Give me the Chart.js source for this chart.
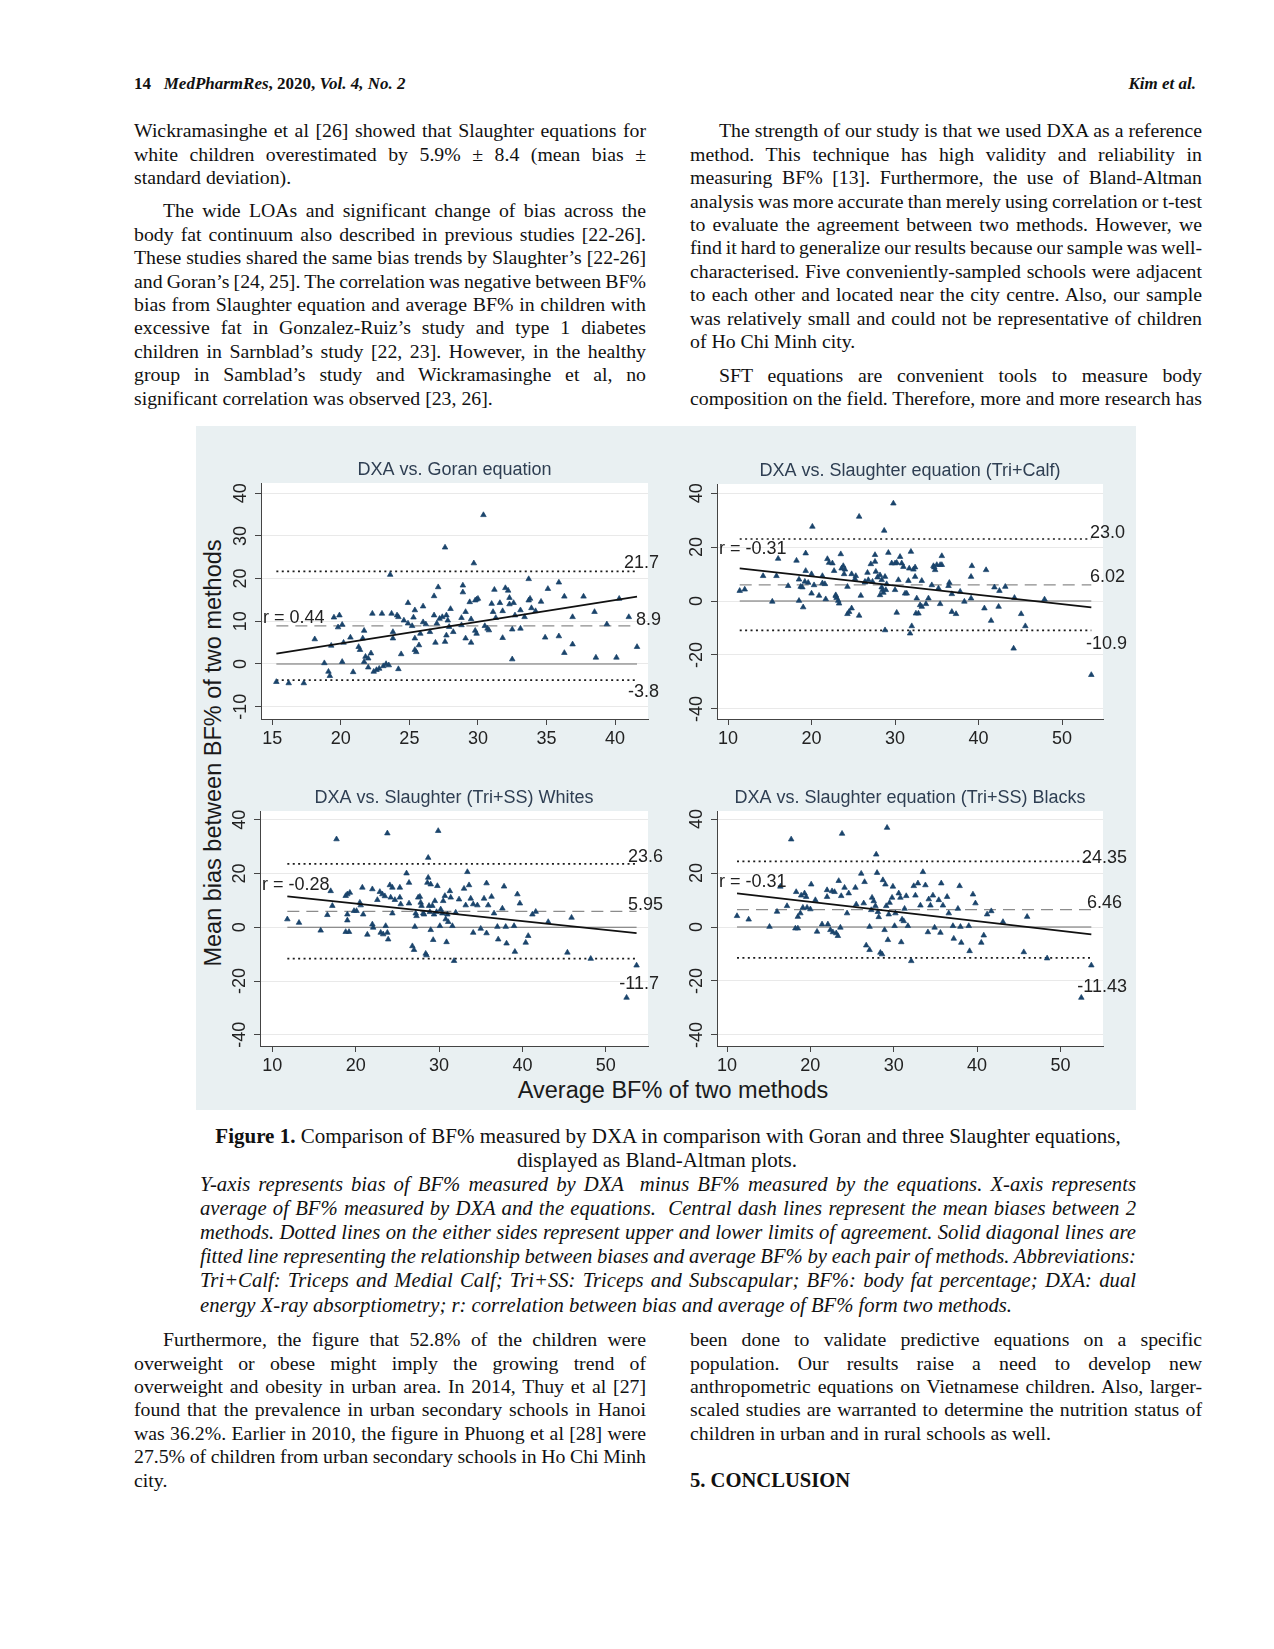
<!DOCTYPE html>
<html>
<head>
<meta charset="utf-8">
<script src="https://cdn.jsdelivr.net/npm/chart.js@4.4.0/dist/chart.umd.min.js"></script>
<style>
html, body { margin: 0; padding: 0; background: #fff; }
#page { position: relative; width: 1274px; height: 1649px; overflow: hidden;
        font-family: "Liberation Serif", "Times New Roman", serif; color: #111; }
.ln { position: absolute; white-space: pre; font-size: 19.8px; line-height: 24px; }
.cap { font-style: italic; font-size: 20.7px; }
.hdr { position: absolute; font-weight: bold; font-size: 17px; line-height: 20px; white-space: nowrap; }
.center { position: absolute; white-space: nowrap; font-size: 21px; line-height: 24px; text-align: center; width: 1000px; }
#fig { position: absolute; left: 196px; top: 426px; width: 940px; height: 684px; background: #e9f0f2; }
canvas.panel { position: absolute; }
.axt { position: absolute; font-family: "Liberation Sans", Arial, sans-serif; font-size: 23.5px;
       color: #1a1a1a; white-space: nowrap; transform: translate(-50%, -50%); }
</style>
</head>
<body>
<div id="page">
  <div class="hdr" style="left:134px; top:74px;">14&nbsp;&nbsp; <i>MedPharmRes</i>, 2020, <i>Vol. 4, No. 2</i></div>
  <div class="hdr" style="right:78px; top:74px;"><i>Kim et al.</i></div>
  <div id="fig"></div>
  <div class="axt" style="left:213px; top:753px; transform: translate(-50%, -50%) rotate(-90deg);">Mean bias between BF% of two methods</div>
  <div class="axt" style="left:673px; top:1090px;">Average BF% of two methods</div>
  <div class="center" style="left:168px; top:1124px;"><b>Figure 1.</b> Comparison of BF% measured by DXA in comparison with Goran and three Slaughter equations,</div>
  <div class="center" style="left:157px; top:1148px;">displayed as Bland-Altman plots.</div>
  <div class="hdr" style="left:690px; top:1469px; font-size:20.6px; line-height:22px;">5. CONCLUSION</div>
</div>

<script>
// ---- chart data ----
const goranAvg = [15.3,16.2,17.3,18.1,18.8,19.1,19.2,19.3,19.5,19.9,
  19.8,20.1,20.1,20.2,20.7,20.9,21.3,21.4,21.7,21.6,
  21.7,21.8,22.0,22.2,22.0,22.3,22.4,22.6,22.8,23.0,
  23.1,23.3,23.5,23.6,23.7,23.8,23.8,24.1,24.2,24.2,
  24.4,24.6,24.9,24.9,25.2,25.3,25.4,25.4,25.4,25.5,
  25.7,25.8,26.0,26.0,26.2,26.5,26.8,26.8,26.9,27.1,
  27.0,27.2,27.4,27.6,27.6,27.7,27.8,27.7,27.9,28.0,
  28.2,28.8,28.9,28.9,28.8,29.1,29.1,29.4,29.5,29.5,
  29.7,29.8,29.9,30.0,29.8,29.9,30.4,30.5,30.7,30.8,
  31.0,31.1,31.2,31.3,31.6,31.8,31.8,32.0,32.2,32.3,
  32.3,32.5,32.5,32.6,32.7,33.1,33.1,33.4,33.7,33.7,
  33.8,33.9,34.2,34.6,34.9,35.1,35.9,35.9,36.3,36.3,
  36.9,36.9,37.7,38.5,38.6,39.4,40.1,40.3,41.0,41.6];
const goranBias = [-4.2,-4.5,-4.5,5.8,0.2,-1.8,-2.8,4.3,10.9,11.4,
  8.6,9.2,0.5,5.0,6.2,-1.9,4.0,3.3,7.8,6.0,
  0.5,1.7,1.3,2.5,-0.8,11.8,-1.8,-1.4,-1.1,11.8,
  -0.5,0.0,-0.3,20.9,11.8,7.5,6.0,11.4,11.0,-1.2,
  2.3,10.2,14.3,9.5,8.9,10.9,12.6,6.0,3.3,2.8,
  4.4,7.1,13.5,9.8,9.3,7.5,15.9,11.4,5.0,18.0,
  9.5,10.6,11.0,27.3,5.2,11.4,10.2,6.7,8.7,12.9,
  7.5,9.1,16.8,18.4,10.8,12.2,6.0,14.5,5.0,10.5,
  23.6,14.9,15.1,15.3,7.8,7.1,34.9,8.9,8.3,7.9,
  14.1,12.2,17.4,10.8,14.3,6.1,12.4,17.8,17.2,15.5,
  14.0,1.1,8.1,14.3,11.4,8.3,12.6,11.0,14.9,19.9,
  15.3,13.1,12.4,14.6,6.2,17.6,19.1,6.5,2.6,15.8,
  11.0,4.6,15.8,12.2,1.5,9.3,1.5,15.3,11.0,4.0];

const calfAvg = [11.4,12.0,14.2,15.3,15.8,16.0,17.2,18.2,18.5,18.7,
  18.5,18.9,19.0,19.2,19.3,19.3,19.6,20.0,20.1,20.0,
  20.3,20.9,21.3,21.3,21.6,21.7,21.9,22.1,22.5,22.7,
  22.9,23.0,23.2,23.3,23.5,23.6,23.8,24.0,24.3,24.3,
  24.5,24.8,24.8,25.2,25.7,25.7,25.9,26.4,26.7,27.1,
  27.3,27.6,27.6,27.7,27.9,28.2,28.4,28.4,28.5,28.6,
  28.7,28.8,28.8,29.0,29.2,29.8,30.0,30.2,30.4,30.6,
  30.8,31.0,31.2,31.4,31.6,31.7,31.9,32.0,31.8,32.2,
  32.4,32.5,32.6,32.8,33.0,33.2,33.2,33.7,34.0,34.4,
  34.6,34.8,35.0,35.2,35.4,35.6,35.6,36.4,36.5,36.8,
  36.8,37.3,37.8,38.3,39.1,39.2,39.1,40.7,40.9,41.5,
  41.9,42.4,42.5,43.2,44.2,44.3,45.1,45.6,47.9,53.5,
  28.2,28.9,30.0,29.6,30.2,22.9,23.9,25.3,26.4,26.8,32.4,34.7,35.4];
const calfBias = [3.8,4.3,9.3,-0.2,9.3,15.7,5.6,15.0,8.0,5.3,
  0.1,5.1,-2.3,7.2,17.7,11.2,6.8,10.0,27.6,2.8,
  5.9,2.0,9.3,6.6,6.3,0.7,15.6,14.2,14.0,11.2,
  2.2,1.2,0.1,-0.9,17.4,12.1,13.0,11.7,5.3,-4.8,
  -4.0,10.0,-2.7,8.2,-5.4,31.3,2.0,6.9,10.5,13.7,
  7.2,17.1,14.6,10.9,8.8,9.6,7.8,5.1,4.1,3.1,
  26.1,-10.8,9.0,6.3,17.9,36.2,14.0,-4.3,7.8,16.4,
  14.0,12.7,2.8,2.8,7.5,12.1,18.3,-9.3,-12.0,11.7,
  9.0,-4.6,1.0,-4.6,-1.5,7.5,-2.1,-1.1,1.0,5.9,
  13.0,11.5,13.4,4.7,-1.1,16.7,13.4,5.6,6.8,2.6,
  -4.0,-4.8,3.5,-0.2,9.0,13.0,1.0,-2.7,11.5,-7.3,
  5.1,-2.1,3.8,5.3,-17.6,1.2,-4.8,-9.3,0.6,-27.4,
  2.2,4.1,4.1,14.0,14.2,1.9,10.0,9.3,7.2,7.8,12.5,12.5,13.4];

const whitesAvg = [11.8,13.2,15.8,17.7,16.6,17.2,17.0,18.8,19.0,19.0,
  18.8,19.0,19.3,19.2,19.8,20.1,20.5,20.6,20.8,20.9,
  21.4,22.0,22.0,22.1,22.6,22.9,23.0,23.2,23.3,23.5,
  23.6,23.8,23.8,23.9,24.1,24.2,24.4,24.4,24.7,25.3,
  25.4,25.3,26.1,26.4,26.4,26.8,27.0,27.1,27.2,27.3,
  27.5,27.7,27.8,27.9,28.1,28.2,28.4,28.5,28.6,28.7,
  28.7,28.8,28.9,29.0,29.0,29.2,29.3,29.4,29.5,29.7,
  29.8,29.9,30.1,30.2,30.4,30.5,30.7,30.8,30.9,31.0,
  31.1,31.3,31.4,31.6,31.8,32.0,32.4,33.0,33.2,33.4,
  33.6,33.8,34.1,34.1,34.6,35.0,35.4,35.7,35.7,35.9,
  36.3,36.6,37.0,37.1,37.6,37.8,38.0,38.1,39.0,39.1,
  39.4,39.7,40.4,40.7,41.2,41.6,43.1,45.4,45.9,48.2,
  52.5,53.7];
const whitesBias = [3.0,1.7,-1.2,32.8,4.6,8.0,13.5,-1.7,2.6,4.8,
  11.7,12.3,12.9,-1.7,6.1,6.1,9.2,8.2,14.8,4.8,
  -2.7,14.2,1.1,-0.1,10.2,13.2,-2.0,12.3,-2.6,11.6,
  0.5,35.0,-2.0,-4.5,15.7,11.1,14.8,5.2,10.2,14.8,
  8.6,11.1,20.1,16.6,8.9,-7.0,-8.4,0.2,5.2,4.2,
  11.1,11.4,9.2,8.0,5.2,4.8,-9.8,-10.4,16.6,18.5,
  25.9,8.0,5.7,-1.0,16.0,8.0,-4.7,4.8,9.8,5.7,
  15.4,35.9,0.5,6.7,5.2,9.8,11.7,3.0,-5.5,4.8,
  2.0,13.5,11.1,0.5,-12.5,5.5,10.4,14.4,8.2,20.6,
  15.7,10.7,-2.0,8.6,8.2,-0.5,10.7,16.4,-2.2,8.2,
  11.4,5.2,0.2,-4.5,7.0,15.2,0.2,-6.0,0.5,-9.1,
  12.3,8.9,-5.7,-3.2,4.8,5.8,2.0,-9.4,3.6,-11.7,
  -26.2,-14.2];

const blacksAvg = [11.2,12.6,15.1,16.0,16.4,17.2,17.7,18.3,18.2,18.5,
  18.5,18.8,18.9,19.1,19.3,19.5,19.6,20.0,20.1,20.6,
  20.8,21.4,22.0,22.1,22.0,22.4,22.6,22.7,22.9,23.1,
  23.3,23.4,23.6,23.7,23.8,24.1,24.4,24.6,25.4,25.5,
  26.1,26.4,26.5,26.7,27.1,27.1,27.3,27.4,27.6,27.8,
  27.9,28.0,28.1,28.2,28.4,28.6,28.7,29.0,28.9,29.1,
  29.2,29.3,29.4,29.5,29.8,29.9,30.1,30.2,30.6,30.8,
  30.9,31.0,31.2,31.3,31.5,31.7,32.1,32.4,32.6,32.9,
  33.2,33.5,33.8,34.1,34.2,34.4,34.7,34.9,35.4,35.6,
  35.7,35.9,36.4,36.6,37.1,37.2,37.7,37.9,38.0,38.1,
  39.0,39.1,39.5,39.8,40.5,40.8,41.2,41.7,43.1,45.6,
  46.0,48.4,52.5,53.7];
const blacksBias = [4.1,2.8,0.1,5.7,15.0,7.8,32.5,13.0,-0.5,-0.5,
  3.8,5.1,11.7,7.2,12.5,11.2,7.2,6.6,15.8,10.0,
  -1.7,1.0,13.7,1.0,11.2,-1.1,13.3,-1.9,13.0,-2.3,
  -3.3,17.1,-0.2,11.5,34.6,14.6,5.1,12.5,14.6,8.4,
  19.8,8.8,16.7,-6.8,-8.5,0.1,6.3,10.9,9.6,7.8,
  26.9,20.1,5.6,3.7,-9.5,-10.1,17.4,15.8,-1.1,7.8,
  36.8,-4.8,4.7,9.0,10.9,15.0,0.4,5.1,12.5,10.9,
  -5.6,2.8,2.2,6.8,11.5,0.4,-12.6,15.2,11.7,16.2,
  8.0,20.4,15.5,-1.9,10.3,8.0,11.7,-0.2,10.0,-2.1,
  16.2,8.0,11.2,5.1,0.4,-4.3,6.8,15.2,0.1,-5.8,
  0.4,-8.9,12.1,8.8,-5.8,-3.1,4.7,5.9,1.9,-9.3,
  3.8,-11.6,-26.2,-14.2];

// mean bias and limits of agreement: [upper LOA, mean, lower LOA]
const goranLimits = [21.7, 8.9, -3.8];
const calfLimits = [23.0, 6.02, -10.9];
const whitesLimits = [23.6, 5.95, -11.7];
const blacksLimits = [24.35, 6.46, -11.43];
const goranLimitLabels = ['21.7', '8.9', '-3.8'];
const calfLimitLabels = ['23.0', '6.02', '-10.9'];
const whitesLimitLabels = ['23.6', '5.95', '-11.7'];
const blacksLimitLabels = ['24.35', '6.46', '-11.43'];

// fitted line: bias at the smallest and at the largest average
const goranFit = [2.4, 15.8];
const calfFit = [12.1, -2.35];
const whitesFit = [11.55, -2.2];
const blacksFit = [12.5, -2.7];

// tick labels
const goranXTicks = [15, 20, 25, 30, 35, 40];
const goranYTicks = [-10, 0, 10, 20, 30, 40];
const slXTicks = [10, 20, 30, 40, 50];
const slYTicks = [-40, -20, 0, 20, 40];

const panels = [
  { title: 'DXA vs. Goran equation', xs: goranAvg, ys: goranBias, limits: goranLimits,
    limitLabels: goranLimitLabels, fit: goranFit, r: 'r = 0.44', xTicks: goranXTicks, yTicks: goranYTicks,
    area: { left: 261, top: 483, right: 648, bottom: 719 }, xRange: [14.18, 42.4], yRange: [-12.9, 42.4],
    labelDx: [11, 13, 11], labelDy: [-8, -6, 12], rY: 10.7 },
  { title: 'DXA vs. Slaughter equation (Tri+Calf)', xs: calfAvg, ys: calfBias, limits: calfLimits,
    limitLabels: calfLimitLabels, fit: calfFit, r: 'r = -0.31', xTicks: slXTicks, yTicks: slYTicks,
    area: { left: 717, top: 484, right: 1103, bottom: 719 }, xRange: [8.68, 54.9], yRange: [-43.75, 43.4],
    labelDx: [22, 22, 24], labelDy: [-6, -8, 14], rY: 19.3 },
  { title: 'DXA vs. Slaughter (Tri+SS) Whites', xs: whitesAvg, ys: whitesBias, limits: whitesLimits,
    limitLabels: whitesLimitLabels, fit: whitesFit, r: 'r = -0.28', xTicks: slXTicks, yTicks: slYTicks,
    area: { left: 260, top: 811, right: 648, bottom: 1046 }, xRange: [8.52, 55.07], yRange: [-44.2, 43.3],
    labelDx: [15, 15, 11], labelDy: [-7, -6.5, 25], rY: 15.9 },
  { title: 'DXA vs. Slaughter equation (Tri+SS) Blacks', xs: blacksAvg, ys: blacksBias, limits: blacksLimits,
    limitLabels: blacksLimitLabels, fit: blacksFit, r: 'r = -0.31', xTicks: slXTicks, yTicks: slYTicks,
    area: { left: 717, top: 811, right: 1103, bottom: 1046 }, xRange: [8.8, 55.1], yRange: [-44.1, 43.0],
    labelDx: [24, 19, 24], labelDy: [-3, -6.5, 29], rY: 16.7 }
];

const page = document.getElementById('page');
const SANS = '"Liberation Sans", Arial, sans-serif';

function panelText(p) {
  return {
    id: 'panelText',
    beforeDraw(chart) {
      const { ctx, chartArea: a } = chart;
      ctx.save();
      ctx.fillStyle = '#ffffff';
      ctx.fillRect(a.left, a.top, a.right - a.left, a.bottom - a.top);
      ctx.restore();
    },
    afterDraw(chart) {
      const { ctx, chartArea: a, scales } = chart;
      const x = scales.x, y = scales.y;
      ctx.save();
      ctx.font = '18px ' + SANS;
      ctx.fillStyle = '#222';
      ctx.textAlign = 'center';
      ctx.textBaseline = 'middle';
      p.xTicks.forEach(v => ctx.fillText(String(v), x.getPixelForValue(v), a.bottom + 20));
      p.yTicks.forEach(v => {
        ctx.save();
        ctx.translate(a.left - 20, y.getPixelForValue(v));
        ctx.rotate(-Math.PI / 2);
        ctx.fillText(String(v), 0, 0);
        ctx.restore();
      });
      ctx.fillStyle = '#2e3e52';
      ctx.fillText(p.title, (a.left + a.right) / 2, a.top - 13);
      ctx.fillStyle = '#222';
      ctx.textAlign = 'right';
      p.limitLabels.forEach((t, i) => {
        ctx.fillText(t, a.right + p.labelDx[i], y.getPixelForValue(p.limits[i]) + p.labelDy[i]);
      });
      ctx.textAlign = 'left';
      ctx.fillText(p.r, a.left + 2, y.getPixelForValue(p.rY));
      ctx.restore();
    }
  };
}

function drawPanel(p) {
  const a = p.area;
  const padL = 60, padT = 45, padR = 50, padB = 40, tick = 6;
  const cv = document.createElement('canvas');
  cv.className = 'panel';
  cv.width = a.right - a.left + padL + padR;
  cv.height = a.bottom - a.top + padT + padB;
  cv.style.left = (a.left - padL) + 'px';
  cv.style.top = (a.top - padT) + 'px';
  page.appendChild(cv);

  const xMin = Math.min(...p.xs), xMax = Math.max(...p.xs);
  const points = p.xs.map((v, i) => ({ x: v, y: p.ys[i] }));
  const across = yv => [{ x: xMin, y: yv }, { x: xMax, y: yv }];
  const dotted = { showLine: true, borderColor: '#1c1c1c', borderWidth: 1.7, borderDash: [2, 3.4], pointRadius: 0 };

  new Chart(cv, {
    type: 'scatter',
    data: {
      datasets: [
        { data: [{ x: xMin, y: p.fit[0] }, { x: xMax, y: p.fit[1] }], showLine: true,
          borderColor: '#111', borderWidth: 1.8, pointRadius: 0 },
        { data: points, pointStyle: 'triangle', pointRadius: 3.2, backgroundColor: '#1a446b',
          borderColor: '#1a446b', borderWidth: 0.7 },
        Object.assign({ data: across(p.limits[0]) }, dotted),
        { data: across(p.limits[1]), showLine: true, borderColor: '#8c8c8c', borderWidth: 1.3,
          borderDash: [12, 7], pointRadius: 0 },
        Object.assign({ data: across(p.limits[2]) }, dotted),
        { data: across(0), showLine: true, borderColor: '#6e6e6e', borderWidth: 1.1, pointRadius: 0 }
      ]
    },
    options: {
      responsive: false,
      animation: false,
      events: [],
      layout: { padding: { left: padL - tick, top: padT, right: padR, bottom: padB - tick } },
      plugins: { legend: { display: false }, tooltip: { enabled: false } },
      scales: {
        x: {
          type: 'linear', min: p.xRange[0], max: p.xRange[1],
          afterBuildTicks: s => { s.ticks = p.xTicks.map(v => ({ value: v })); },
          afterFit: s => { s.height = tick; },
          ticks: { display: false },
          grid: { drawOnChartArea: false, drawTicks: true, tickLength: tick, tickColor: '#444' },
          border: { color: '#444', width: 1 }
        },
        y: {
          type: 'linear', min: p.yRange[0], max: p.yRange[1],
          afterBuildTicks: s => { s.ticks = p.yTicks.map(v => ({ value: v })); },
          afterFit: s => { s.width = tick; },
          ticks: { display: false },
          grid: { color: '#e9e9e9', lineWidth: 1, drawTicks: true, tickLength: tick, tickColor: '#444' },
          border: { color: '#444', width: 1 }
        }
      }
    },
    plugins: [panelText(p)]
  });
}

panels.forEach(drawPanel);

// ---- running text ----
function textBlock(lines, left, width, y0, lh, opts) {
  opts = opts || {};
  lines.forEach((t, i) => {
    const d = document.createElement('div');
    d.className = 'ln' + (opts.cls ? ' ' + opts.cls : '');
    const ind = (i === 0 && opts.indent) ? opts.indent : 0;
    d.style.left = (left + ind) + 'px';
    d.style.top = (y0 + i * lh - 12) + 'px';
    d.textContent = t;
    page.appendChild(d);
    const last = (i === lines.length - 1) && !opts.justifyLast;
    if (!last) {
      const n = (t.match(/ /g) || []).length;
      const w = d.getBoundingClientRect().width;
      if (n) d.style.wordSpacing = ((width - ind - w) / n) + 'px';
    }
  });
}

textBlock([
  'Wickramasinghe et al [26] showed that Slaughter equations for',
  'white children overestimated by 5.9% ± 8.4 (mean bias ±',
  'standard deviation).'
], 134, 512, 130.4, 23.3);

textBlock([
  'The wide LOAs and significant change of bias across the',
  'body fat continuum also described in previous studies [22-26].',
  'These studies shared the same bias trends by Slaughter’s [22-26]',
  'and Goran’s [24, 25]. The correlation was negative between BF%',
  'bias from Slaughter equation and average BF% in children with',
  'excessive fat in Gonzalez-Ruiz’s study and type 1 diabetes',
  'children in Sarnblad’s study [22, 23]. However, in the healthy',
  'group in Samblad’s study and Wickramasinghe et al, no',
  'significant correlation was observed [23, 26].'
], 134, 512, 210.4, 23.4, { indent: 29 });

textBlock([
  'The strength of our study is that we used DXA as a reference',
  'method. This technique has high validity and reliability in',
  'measuring BF% [13]. Furthermore, the use of Bland-Altman',
  'analysis was more accurate than merely using correlation or t-test',
  'to evaluate the agreement between two methods. However, we',
  'find it hard to generalize our results because our sample was well-',
  'characterised. Five conveniently-sampled schools were adjacent',
  'to each other and located near the city centre. Also, our sample',
  'was relatively small and could not be representative of children',
  'of Ho Chi Minh city.'
], 690, 512, 130.4, 23.4, { indent: 29 });

textBlock([
  'SFT equations are convenient tools to measure body',
  'composition on the field. Therefore, more and more research has'
], 690, 512, 374.5, 23.4, { indent: 29, justifyLast: true });

textBlock([
  'Y-axis represents bias of BF% measured by DXA  minus BF% measured by the equations. X-axis represents',
  'average of BF% measured by DXA and the equations.  Central dash lines represent the mean biases between 2',
  'methods. Dotted lines on the either sides represent upper and lower limits of agreement. Solid diagonal lines are',
  'fitted line representing the relationship between biases and average BF% by each pair of methods. Abbreviations:',
  'Tri+Calf: Triceps and Medial Calf; Tri+SS: Triceps and Subscapular; BF%: body fat percentage; DXA: dual',
  'energy X-ray absorptiometry; r: correlation between bias and average of BF% form two methods.'
], 200, 936, 1183.5, 24.2, { cls: 'cap' });

textBlock([
  'Furthermore, the figure that 52.8% of the children were',
  'overweight or obese might imply the growing trend of',
  'overweight and obesity in urban area. In 2014, Thuy et al [27]',
  'found that the prevalence in urban secondary schools in Hanoi',
  'was 36.2%. Earlier in 2010, the figure in Phuong et al [28] were',
  '27.5% of children from urban secondary schools in Ho Chi Minh',
  'city.'
], 134, 512, 1339.2, 23.4, { indent: 29 });

textBlock([
  'been done to validate predictive equations on a specific',
  'population. Our results raise a need to develop new',
  'anthropometric equations on Vietnamese children. Also, larger-',
  'scaled studies are warranted to determine the nutrition status of',
  'children in urban and in rural schools as well.'
], 690, 512, 1339.2, 23.4);
</script>
</body>
</html>
